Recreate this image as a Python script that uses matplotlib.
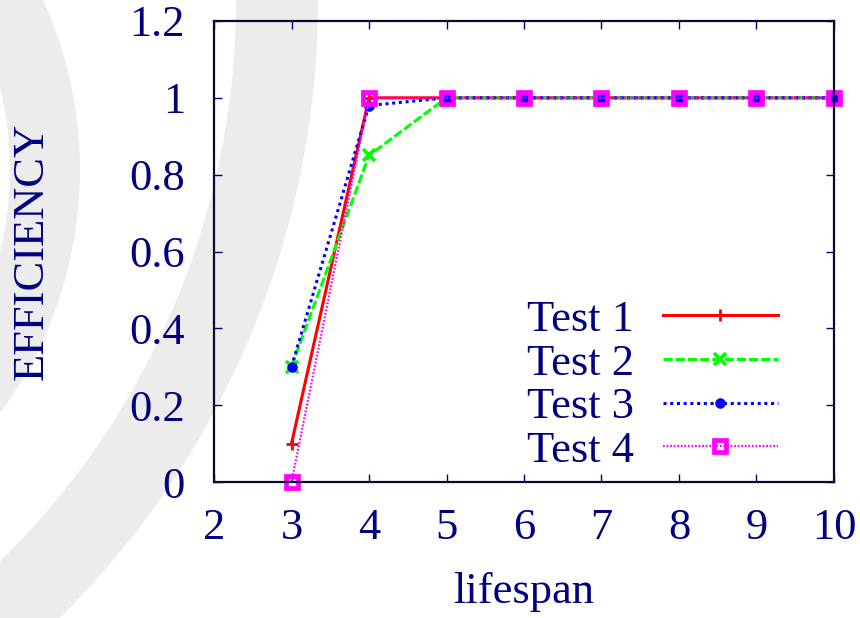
import matplotlib
matplotlib.use("Agg")
import matplotlib.pyplot as plt
from matplotlib.patches import Wedge

# data
lifespan = [3, 4, 5, 6, 7, 8, 9, 10]
test1 = [0.1, 1, 1, 1, 1, 1, 1, 1]
test2 = [0.3, 0.85, 1, 1, 1, 1, 1, 1]
test3 = [0.3, 0.98, 1, 1, 1, 1, 1, 1]
test4 = [0.0, 1, 1, 1, 1, 1, 1, 1]
labels = ["Test 1", "Test 2", "Test 3", "Test 4"]
xticks = [2, 3, 4, 5, 6, 7, 8, 9, 10]
yticks = [0, 0.2, 0.4, 0.6, 0.8, 1, 1.2]
ytick_labels = ["0", "0.2", "0.4", "0.6", "0.8", "1", "1.2"]

navy = "#000080"
fs = 32
plt.rcParams['font.family'] = ['Liberation Serif', 'DejaVu Serif']

W, H = 860, 618
fig = plt.figure(figsize=(W / 100, H / 100), dpi=100)

# light grey arcs of the slide background (pixel coords, y down)
bg = fig.add_axes([0, 0, 1, 1], zorder=0)
bg.set_xlim(0, W); bg.set_ylim(H, 0); bg.axis('off')
grey = "#ececec"
bg.add_patch(Wedge((-330, 170), 410, 0, 360, width=70, color=grey, lw=0))
bg.add_patch(Wedge((-550, 0), 868, 0, 360, width=82, color=grey, lw=0))

ax = fig.add_axes([214 / W, 1 - 482 / H, 620 / W, 461 / H], zorder=1)
ax.set_facecolor('none')

ax.plot(lifespan, test1, color='#ff0000', lw=2.2, ls='-', marker='+', ms=9, mew=2,
        label=labels[0], clip_on=False)
ax.plot(lifespan, test2, color='#00ff00', lw=2.2, ls=(0, (3, 1)), marker='x', ms=8, mew=2.6,
        label=labels[1], clip_on=False)
ax.plot(lifespan, test3, color='#0000ff', lw=2.2, ls=(0, (1, 1.2)), marker=(8, 2, 0), ms=7, mew=2.6,
        label=labels[2], clip_on=False)
ax.plot(lifespan, test4, color='#ff00ff', lw=1.6, ls=(0, (0.8, 0.8)), marker='s', ms=8, mew=3.4,
        mfc='none', label=labels[3], clip_on=False)

ax.set_xlim(2, 10)
ax.set_ylim(0, 1.2)
ax.set_xticks(xticks)
ax.set_xticklabels([str(x) for x in xticks])
ax.set_yticks(yticks)
ax.set_yticklabels(ytick_labels)
ax.tick_params(direction='in', length=6, width=1, color=navy, labelcolor=navy,
               labelsize=fs, top=True, right=True)
ax.tick_params(axis='x', pad=19)
ax.tick_params(axis='y', pad=21)
for s in ax.spines.values():
    s.set_linewidth(1.6)
    s.set_color('#0a0a30')

ax.set_xlabel("lifespan", fontsize=fs, color=navy, labelpad=17)
ax.set_ylabel("EFFICIENCY", fontsize=fs, color=navy)
ax.yaxis.set_label_coords(-0.262, 0.5)

leg = ax.legend(loc='lower right', bbox_to_anchor=(0.91, 0.024), frameon=False,
                markerfirst=False, fontsize=fs, handlelength=2.6, handletextpad=0.65,
                labelspacing=0.08, borderpad=0, borderaxespad=0)
for t in leg.get_texts():
    t.set_color(navy)

fig.savefig("out.png", dpi=100)
